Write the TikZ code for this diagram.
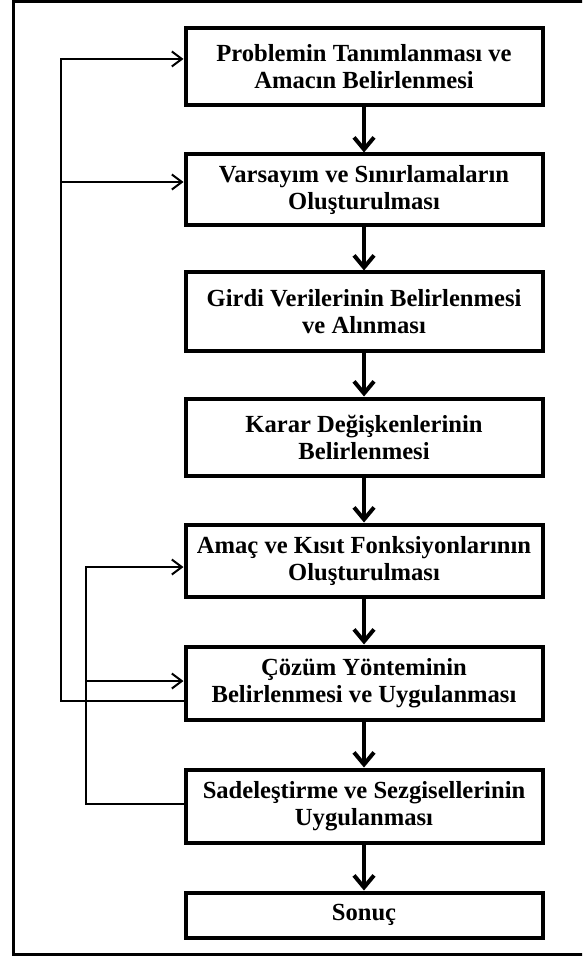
\documentclass[tikz,border=0pt]{standalone}
\usepackage{fontspec}
\setmainfont{Liberation Serif}
\usetikzlibrary{arrows.meta}
\tikzset{
  stepbox/.style={draw=black, line width=4pt, minimum width=357pt, inner sep=0pt,
    align=center, font=\fontsize{24.6}{27}\selectfont\bfseries},
  down/.style={line width=4pt, -{Straight Barb[length=12pt,width=20pt,line width=4pt]}},
  fbarrow/.style={line width=2pt, -{Straight Barb[length=10pt,width=15pt,line width=2pt]}},
}
\begin{document}
\begin{tikzpicture}[x=1pt,y=-1pt]
\clip (0,0) rectangle (582,957);
\fill[white] (0,0) rectangle (582,957);
\draw[line width=3pt] (13.5,1.5) rectangle (600,954.5);
\node[stepbox, minimum height=77pt] (b1) at (364,67) {Problemin Tanımlanması ve\\Amacın Belirlenmesi};
\node[stepbox, minimum height=71pt] (b2) at (364,190) {Varsayım ve Sınırlamaların\\Oluşturulması};
\node[stepbox, minimum height=78pt] (b3) at (364,311.5) {Girdi Verilerinin Belirlenmesi\\ve Alınması};
\node[stepbox, minimum height=77pt] (b4) at (364,437) {Karar Değişkenlerinin\\Belirlenmesi};
\node[stepbox, minimum height=72pt] (b5) at (364,560.5) {Amaç ve Kısıt Fonksiyonlarının\\Oluşturulması};
\node[stepbox, minimum height=73pt] (b6) at (364,683) {Çözüm Yönteminin\\Belirlenmesi ve Uygulanması};
\node[stepbox, minimum height=73pt] (b7) at (364,806) {Sadeleştirme ve Sezgisellerinin\\Uygulanması};
\node[stepbox, minimum height=45pt] (b8) at (364,915) {Sonuç};
\foreach \a/\b in {b1/b2,b2/b3,b3/b4,b4/b5,b5/b6,b6/b7,b7/b8}
  \draw[down] (\a.south) -- (\b.north);
\coordinate (ox) at (61,0);
\coordinate (ix) at (86,0);
\coordinate (a1) at ([yshift=8pt]b1.west);
\coordinate (a2) at ([yshift=8pt]b2.west);
\coordinate (a5) at ([yshift=-6.5pt]b5.west);
\coordinate (a6) at ([yshift=2pt]b6.west);
\coordinate (e6) at ([yshift=-18pt]b6.west);
\coordinate (e7) at ([yshift=2pt]b7.west);
\draw[fbarrow] (e6) -| (ox |- a1) -- (a1);
\draw[fbarrow] (ox |- a2) -- (a2);
\draw[fbarrow] (e7) -| (ix |- a5) -- (a5);
\draw[fbarrow] (ix |- a6) -- (a6);
\end{tikzpicture}
\end{document}
